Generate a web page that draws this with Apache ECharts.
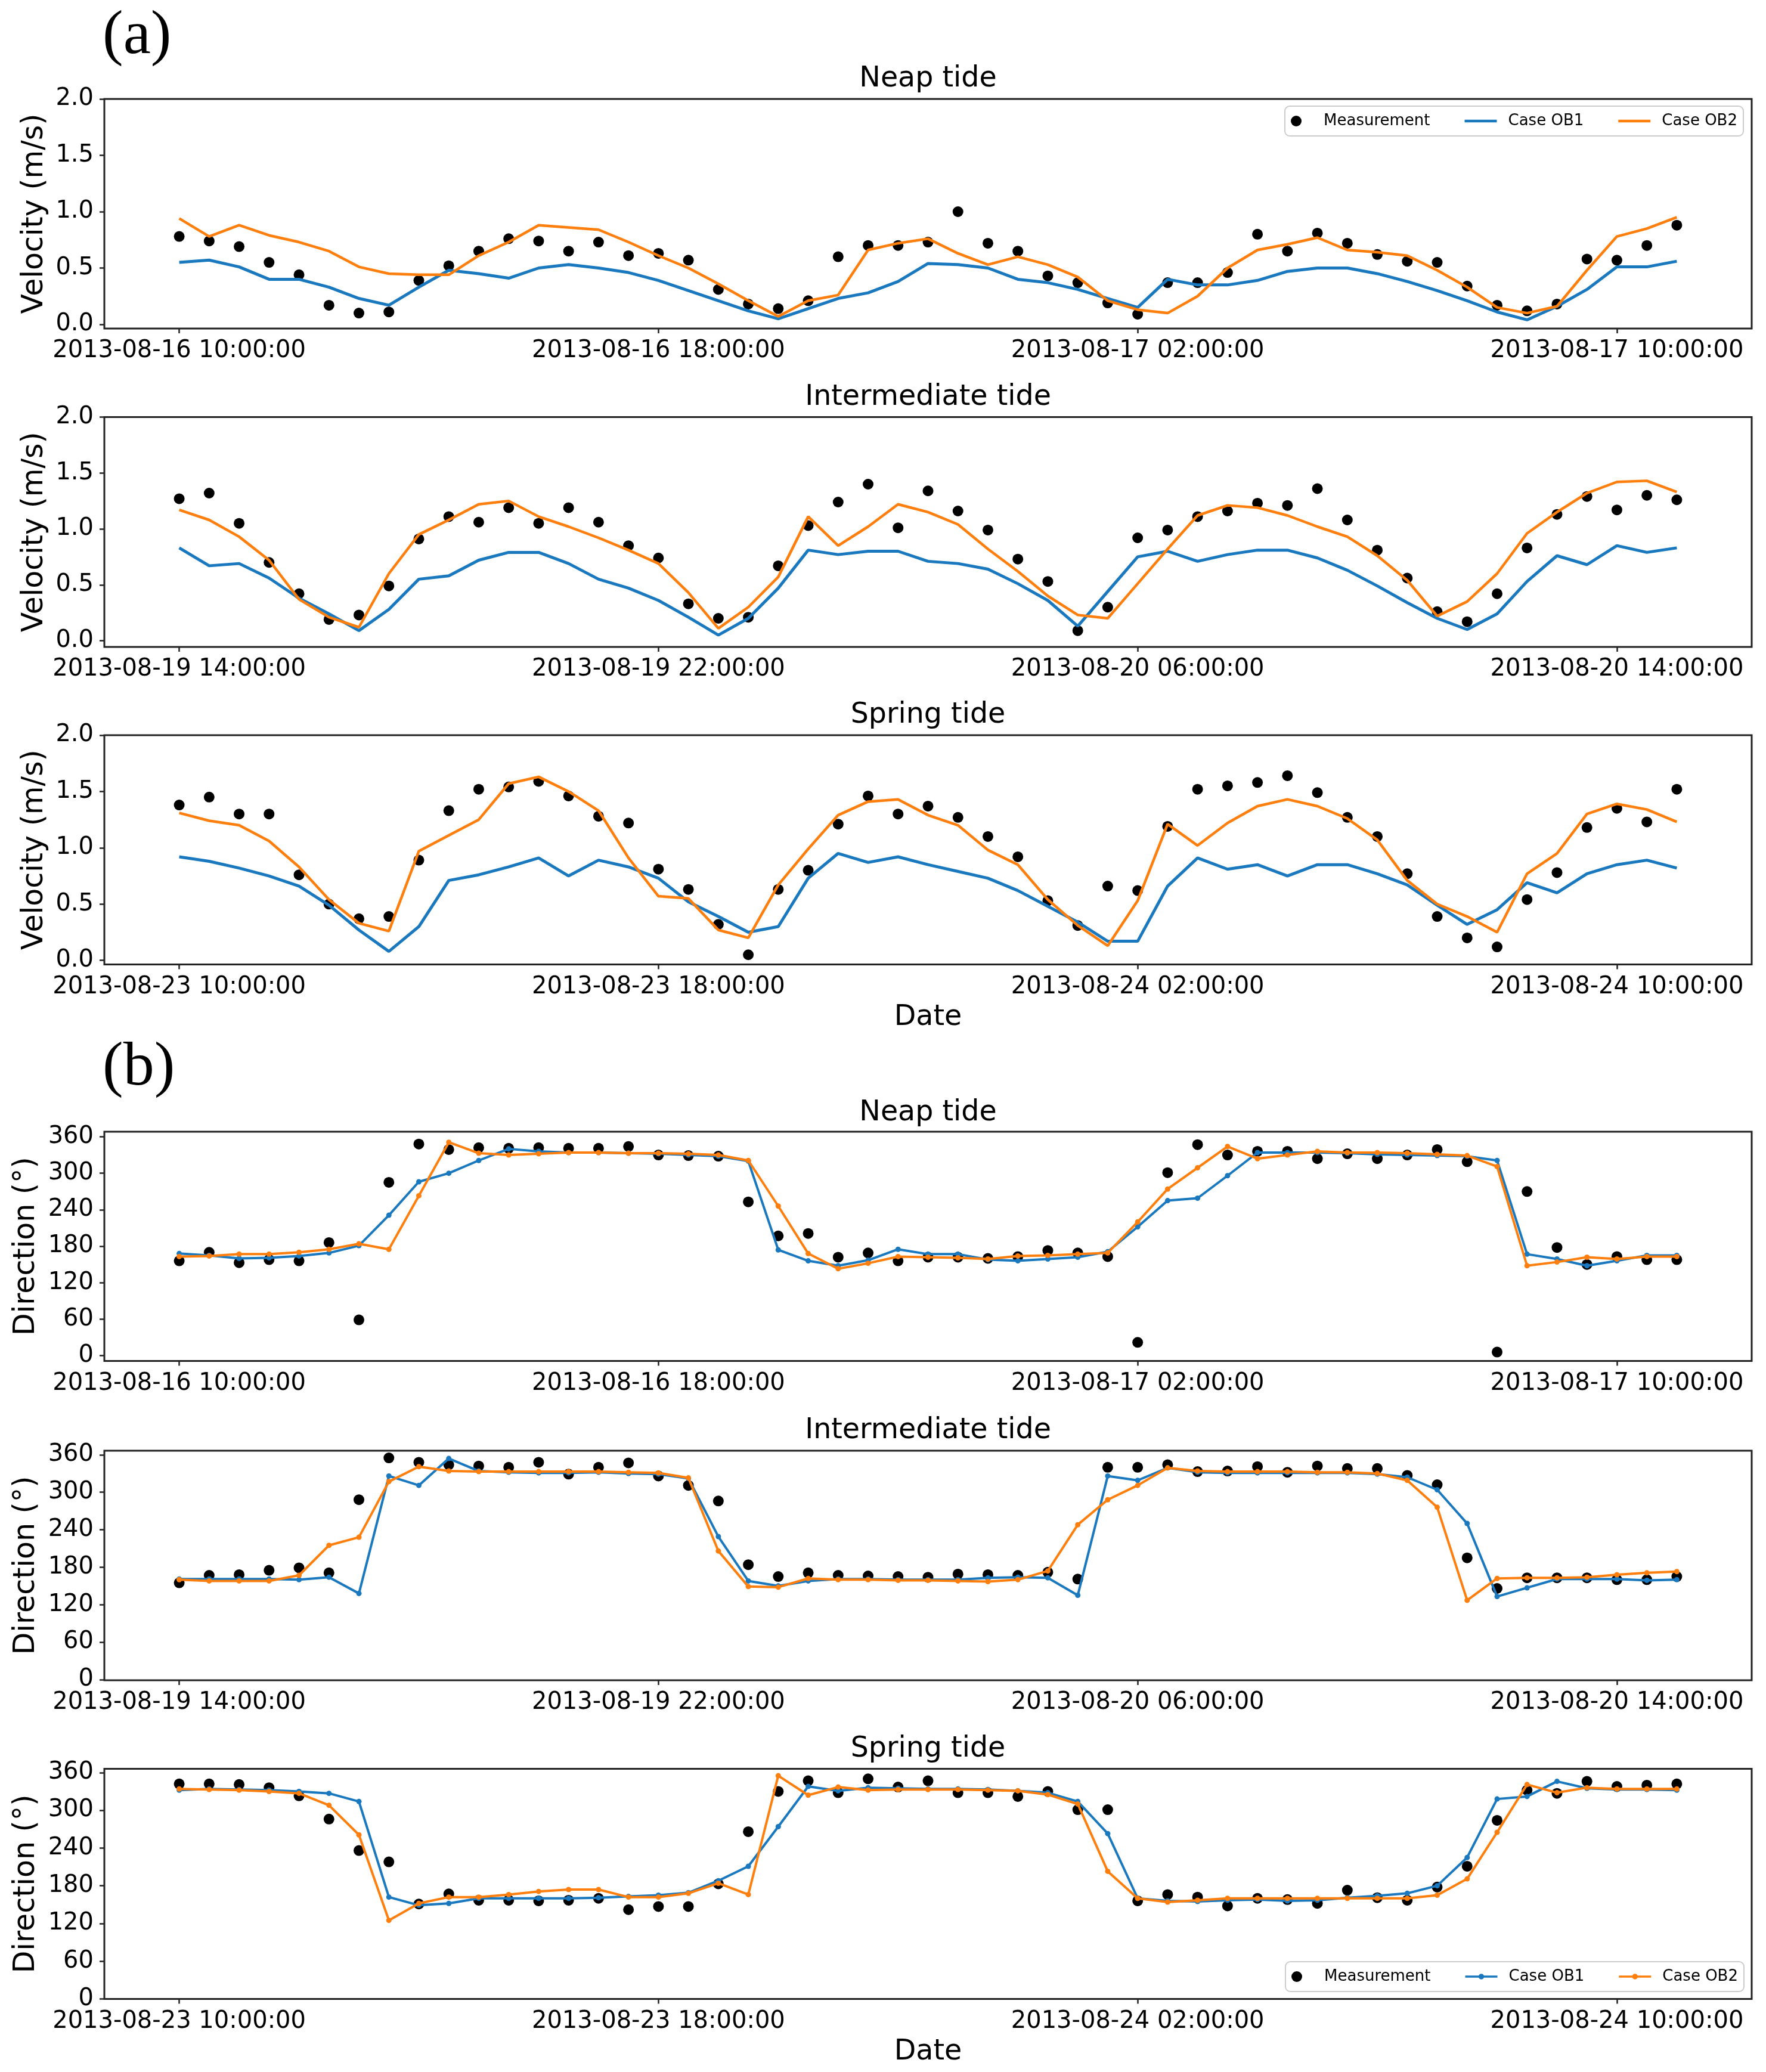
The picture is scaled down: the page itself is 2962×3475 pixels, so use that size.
<!DOCTYPE html>
<html><head><meta charset="utf-8">
<script src="https://cdn.jsdelivr.net/npm/echarts@6/dist/echarts.min.js"></script>
<style>html,body{margin:0;padding:0;background:#fff}#c{width:2962px;height:3475px}</style>
</head><body><div id="c"></div>
<script>
// ---- data (half-hourly, 51 samples per panel) ----
const neapTicks = ['2013-08-16 10:00:00','2013-08-16 18:00:00','2013-08-17 02:00:00','2013-08-17 10:00:00'];
const interTicks = ['2013-08-19 14:00:00','2013-08-19 22:00:00','2013-08-20 06:00:00','2013-08-20 14:00:00'];
const springTicks = ['2013-08-23 10:00:00','2013-08-23 18:00:00','2013-08-24 02:00:00','2013-08-24 10:00:00'];
const velYTicks = [0, 0.5, 1.0, 1.5, 2.0];
const dirYTicks = [0, 60, 120, 180, 240, 300, 360];
const xTickHours = [0, 8, 16, 24];

const neapVelMeas = [0.78,0.74,0.69,0.55,0.44,0.17,0.10,0.11,0.39,0.52,0.65,0.76,0.74,0.65,0.73,0.61,0.63,0.57,0.31,0.18,0.14,0.21,0.60,0.70,0.70,0.73,1.00,0.72,0.65,0.43,0.37,0.19,0.09,0.37,0.37,0.46,0.80,0.65,0.81,0.72,0.62,0.56,0.55,0.34,0.17,0.12,0.18,0.58,0.57,0.70,0.88];
const neapVelOB1 = [0.55,0.57,0.51,0.40,0.40,0.33,0.23,0.17,0.33,0.48,0.45,0.41,0.50,0.53,0.50,0.46,0.39,0.30,0.21,0.12,0.05,0.14,0.23,0.28,0.38,0.54,0.53,0.50,0.40,0.37,0.31,0.23,0.15,0.40,0.35,0.35,0.39,0.47,0.50,0.50,0.45,0.38,0.30,0.21,0.11,0.04,0.16,0.31,0.51,0.51,0.56];
const neapVelOB2 = [0.94,0.78,0.88,0.79,0.73,0.65,0.51,0.45,0.44,0.44,0.61,0.73,0.88,0.86,0.84,0.73,0.61,0.50,0.36,0.21,0.07,0.21,0.26,0.66,0.72,0.76,0.63,0.53,0.60,0.53,0.42,0.21,0.13,0.10,0.25,0.50,0.66,0.71,0.77,0.66,0.64,0.61,0.48,0.33,0.15,0.10,0.16,0.48,0.78,0.85,0.95];

const interVelMeas = [1.27,1.32,1.05,0.70,0.42,0.19,0.23,0.49,0.91,1.11,1.06,1.19,1.05,1.19,1.06,0.85,0.74,0.33,0.20,0.21,0.67,1.03,1.24,1.40,1.01,1.34,1.16,0.99,0.73,0.53,0.09,0.30,0.92,0.99,1.11,1.16,1.23,1.21,1.36,1.08,0.81,0.56,0.26,0.17,0.42,0.83,1.13,1.29,1.17,1.30,1.26];
const interVelOB1 = [0.83,0.67,0.69,0.56,0.38,0.24,0.09,0.28,0.55,0.58,0.72,0.79,0.79,0.69,0.55,0.47,0.36,0.21,0.05,0.20,0.47,0.81,0.77,0.80,0.80,0.71,0.69,0.64,0.51,0.36,0.13,0.44,0.75,0.80,0.71,0.77,0.81,0.81,0.74,0.63,0.49,0.34,0.20,0.10,0.24,0.53,0.76,0.68,0.85,0.79,0.83];
const interVelOB2 = [1.17,1.08,0.93,0.72,0.37,0.21,0.12,0.60,0.95,1.08,1.22,1.25,1.11,1.02,0.92,0.81,0.69,0.43,0.11,0.30,0.57,1.11,0.85,1.02,1.22,1.15,1.04,0.82,0.62,0.40,0.23,0.20,0.51,0.82,1.12,1.21,1.19,1.12,1.02,0.93,0.76,0.54,0.22,0.35,0.60,0.96,1.15,1.32,1.42,1.43,1.33];

const springVelMeas = [1.38,1.45,1.30,1.30,0.76,0.50,0.37,0.39,0.89,1.33,1.52,1.54,1.59,1.46,1.28,1.22,0.81,0.63,0.32,0.05,0.63,0.80,1.21,1.46,1.30,1.37,1.27,1.10,0.92,0.53,0.31,0.66,0.62,1.19,1.52,1.55,1.58,1.64,1.49,1.27,1.10,0.77,0.39,0.20,0.12,0.54,0.78,1.18,1.35,1.23,1.52];
const springVelOB1 = [0.92,0.88,0.82,0.75,0.66,0.49,0.27,0.08,0.30,0.71,0.76,0.83,0.91,0.75,0.89,0.83,0.73,0.52,0.39,0.25,0.30,0.73,0.95,0.87,0.92,0.85,0.79,0.73,0.62,0.48,0.34,0.17,0.17,0.66,0.91,0.81,0.85,0.75,0.85,0.85,0.77,0.67,0.49,0.32,0.45,0.69,0.60,0.77,0.85,0.89,0.82];
const springVelOB2 = [1.31,1.24,1.20,1.06,0.83,0.54,0.33,0.26,0.97,1.11,1.25,1.57,1.63,1.50,1.33,0.91,0.57,0.55,0.27,0.20,0.67,0.99,1.29,1.41,1.43,1.29,1.20,0.98,0.85,0.54,0.31,0.13,0.53,1.21,1.02,1.22,1.37,1.43,1.37,1.26,1.07,0.71,0.50,0.39,0.25,0.77,0.95,1.30,1.39,1.34,1.23];

const neapDirMeas = [156,170,153,158,156,186,59,285,348,339,342,341,342,341,341,344,330,329,328,253,197,201,162,169,156,162,162,160,163,173,169,163,22,301,347,330,336,336,324,332,324,330,339,319,6,270,178,150,163,158,158];
const neapDirOB1 = [168,165,160,161,164,169,181,231,286,300,321,340,336,334,334,333,332,330,328,320,174,156,148,157,175,167,167,158,156,159,162,171,212,255,259,296,334,334,334,333,331,330,329,328,321,167,159,148,156,165,165];
const neapDirOB2 = [163,164,167,167,170,175,184,175,263,351,333,330,332,334,334,333,333,332,330,321,246,168,143,152,163,162,161,159,164,165,167,169,220,274,309,344,324,330,336,334,334,333,331,329,311,148,154,162,159,163,163];

const interDirMeas = [155,167,168,175,179,171,288,355,348,344,342,340,348,329,340,347,326,311,286,184,165,171,167,166,165,164,169,168,167,172,161,340,340,344,333,334,341,332,342,338,338,327,312,195,146,163,163,163,160,160,165];
const interDirOB1 = [161,161,161,161,160,164,138,326,311,354,334,332,331,331,332,330,329,322,229,158,150,158,161,161,160,160,160,163,164,163,135,326,319,339,332,331,331,331,331,331,329,324,304,250,133,147,161,161,161,159,160];
const interDirOB2 = [160,158,158,158,167,215,228,317,341,334,333,333,333,333,333,332,331,323,206,149,148,162,160,160,159,159,158,157,160,174,248,288,311,339,334,333,333,333,332,332,330,319,276,127,162,163,163,164,168,171,173];

const springDirMeas = [342,342,341,336,323,286,236,218,151,167,157,157,156,157,160,142,147,147,183,266,330,347,328,350,337,347,328,328,322,330,301,301,156,166,162,148,160,158,152,173,161,157,178,211,284,332,327,346,338,340,342];
const springDirOB1 = [332,334,333,332,330,327,314,162,149,152,160,160,160,160,161,163,165,169,188,211,274,338,331,336,335,334,334,333,331,328,314,263,160,156,155,157,158,156,157,161,164,168,180,225,318,322,346,335,333,333,332];
const springDirOB2 = [334,333,332,330,327,308,261,125,152,162,162,166,171,174,174,162,162,168,184,166,355,324,337,332,333,333,333,332,331,325,310,203,160,154,157,160,160,160,160,160,160,160,165,191,265,341,328,336,334,334,334];

// hours since first sample of each panel
const hours = neapVelMeas.map((_, i) => i * 0.5);

// ---- layout / style ----
const FONT = '"DejaVu Sans", "Noto Sans", sans-serif';
const BLUE = '#1a78bf';
const ORANGE = '#ff7f0e';
const FRAME = '#222222';
const panels = [
  {kind:'vel', title:'Neap tide', titleY:133, top:166, bottom:551, ymin:-0.037, ymax:2.0, ticks:neapTicks, meas:neapVelMeas, ob1:neapVelOB1, ob2:neapVelOB2},
  {kind:'vel', title:'Intermediate tide', titleY:667, top:699.5, bottom:1085, ymin:-0.056, ymax:2.0, ticks:interTicks, meas:interVelMeas, ob1:interVelOB1, ob2:interVelOB2},
  {kind:'vel', title:'Spring tide', titleY:1200, top:1233, bottom:1617.5, ymin:-0.036, ymax:2.0, ticks:springTicks, meas:springVelMeas, ob1:springVelOB1, ob2:springVelOB2},
  {kind:'dir', title:'Neap tide', titleY:1867, top:1898, bottom:2282.5, ymin:-8.6, ymax:368.3, ticks:neapTicks, meas:neapDirMeas, ob1:neapDirOB1, ob2:neapDirOB2},
  {kind:'dir', title:'Intermediate tide', titleY:2400, top:2433, bottom:2818, ymin:-1, ymax:366.5, ticks:interTicks, meas:interDirMeas, ob1:interDirOB1, ob2:interDirOB2},
  {kind:'dir', title:'Spring tide', titleY:2934, top:2966.5, bottom:3352.5, ymin:0, ymax:366, ticks:springTicks, meas:springDirMeas, ob1:springDirOB1, ob2:springDirOB2}
];
const GL = 175, GR = 2938;
const TICK_FS = 40, TITLE_FS = 47.5, NAME_FS = 49;

const pairs = arr => arr.map((v, i) => [hours[i], v]);

const grid = panels.map(p => ({left:GL, width:GR-GL, top:p.top, height:p.bottom-p.top, show:true, borderColor:FRAME, borderWidth:3, backgroundColor:'rgba(0,0,0,0)'}));

const xAxis = panels.map((p, i) => ({
  gridIndex:i, type:'value', min:-1.25, max:26.25,
  splitLine:{show:false}, axisLine:{show:false, onZero:false},
  axisTick:{show:true, length:8, customValues:xTickHours, lineStyle:{color:FRAME, width:2.5}},
  axisLabel:{customValues:xTickHours, formatter:v => p.ticks[Math.round(v/8)], fontFamily:FONT, fontSize:TICK_FS, color:'#000', margin:18}
}));

const yAxis = panels.map((p, i) => ({
  gridIndex:i, type:'value', min:p.ymin, max:p.ymax,
  splitLine:{show:false}, axisLine:{show:false, onZero:false},
  axisTick:{show:true, length:8, customValues:(p.kind==='vel'?velYTicks:dirYTicks), lineStyle:{color:FRAME, width:2.5}},
  axisLabel:{customValues:(p.kind==='vel'?velYTicks:dirYTicks), formatter:(p.kind==='vel' ? v => v.toFixed(1) : v => String(Math.round(v))), fontFamily:FONT, fontSize:TICK_FS, color:'#000', margin:18},
  name:(p.kind==='vel' ? 'Velocity (m/s)' : 'Direction (°)'),
  nameLocation:'middle', nameRotate:90, nameGap:(p.kind==='vel' ? 88 : 106),
  nameTextStyle:{fontFamily:FONT, fontSize:NAME_FS, color:'#000'}
}));

const series = [];
panels.forEach((p, i) => {
  const withMarker = p.kind === 'dir';
  series.push({type:'scatter', name:'Measurement', xAxisIndex:i, yAxisIndex:i, data:pairs(p.meas), symbol:'circle', symbolSize:18, itemStyle:{color:'#000', opacity:1}, z:2, silent:true});
  series.push({type:'line', name:'Case OB1', xAxisIndex:i, yAxisIndex:i, data:pairs(p.ob1), symbol:withMarker?'circle':'none', symbolSize:9, showSymbol:withMarker, showAllSymbol:true, lineStyle:{width:withMarker?4:5, color:BLUE}, itemStyle:{color:BLUE, borderWidth:0, opacity:1}, z:3, silent:true});
  series.push({type:'line', name:'Case OB2', xAxisIndex:i, yAxisIndex:i, data:pairs(p.ob2), symbol:withMarker?'circle':'none', symbolSize:9, showSymbol:withMarker, showAllSymbol:true, lineStyle:{width:withMarker?4:4.5, color:ORANGE}, itemStyle:{color:ORANGE, borderWidth:0, opacity:1}, z:4, silent:true});
});

const legendBase = {
  orient:'horizontal', itemWidth:54, itemHeight:18, itemGap:58, padding:[12,10],
  backgroundColor:'rgba(255,255,255,0.8)', borderColor:'#cccccc', borderWidth:2, borderRadius:8,
  textStyle:{fontFamily:FONT, fontSize:26, color:'#000', padding:[0,0,0,14]},
  selectedMode:false, itemStyle:{borderWidth:0, opacity:1}, z:10
};
const lineIcon = 'path://M0,0H54V4.5H0Z';
const markerLineIcon = 'path://M0,2.5H54V6H0Z M31.75,4.25A4.75,4.75 0 1 1 22.25,4.25A4.75,4.75 0 1 1 31.75,4.25Z';
const legend = [
  Object.assign({}, legendBase, {top:178, right:38, data:[{name:'Measurement', icon:'circle'}, {name:'Case OB1', icon:lineIcon}, {name:'Case OB2', icon:lineIcon}]}),
  Object.assign({}, legendBase, {top:3290, right:37, data:[{name:'Measurement', icon:'circle'}, {name:'Case OB1', icon:markerLineIcon}, {name:'Case OB2', icon:markerLineIcon}]})
];

const midX = (GL + GR) / 2;
const titleFont = TITLE_FS + 'px "DejaVu Sans"';
const graphic = [
  {type:'text', x:172, y:62, style:{text:'(a)', font:'104px "Liberation Serif", "DejaVu Serif", serif', fill:'#000', align:'left', verticalAlign:'middle'}},
  {type:'text', x:172, y:1792, style:{text:'(b)', font:'104px "Liberation Serif", "DejaVu Serif", serif', fill:'#000', align:'left', verticalAlign:'middle'}},
  {type:'text', x:midX, y:1707, style:{text:'Date', font:titleFont, fill:'#000', align:'center', verticalAlign:'middle'}},
  {type:'text', x:midX, y:3442, style:{text:'Date', font:titleFont, fill:'#000', align:'center', verticalAlign:'middle'}}
].concat(panels.map(p => ({type:'text', x:midX, y:p.titleY, style:{text:p.title, font:titleFont, fill:'#000', align:'center', verticalAlign:'middle'}})));

const chart = echarts.init(document.getElementById('c'), null, {renderer:'canvas'});
chart.setOption({
  backgroundColor:'#ffffff', animation:false,
  grid, xAxis, yAxis, series, legend, graphic
});
</script></body></html>
